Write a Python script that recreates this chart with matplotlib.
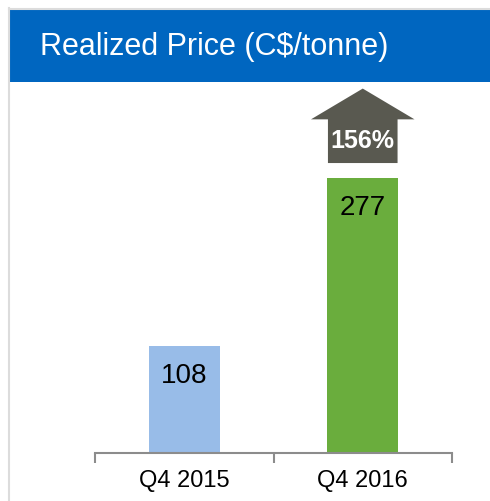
import matplotlib.pyplot as plt
from matplotlib.patches import Rectangle, Polygon
from matplotlib.lines import Line2D

plt.rcParams["font.family"] = ["Liberation Sans", "DejaVu Sans"]

# data
categories = ["Q4 2015", "Q4 2016"]
prices = [108, 277]
bar_colors = ["#98BCE8", "#6AAD3D"]
change_label = "156%"

W, H = 490, 501
fig = plt.figure(figsize=(W / 100, H / 100), dpi=100)


def fx(px):
    return px / W


def fy(py):
    return 1 - py / H


# frame border lines + title banner
fig.add_artist(Line2D([fx(8.5), fx(8.5)], [0, fy(8)], color="#DCDCDC", lw=1.5))
fig.add_artist(Line2D([fx(8.5), 1], [fy(8.5), fy(8.5)], color="#DCDCDC", lw=1.5))
fig.add_artist(Rectangle((fx(9), fy(82)), 1 - fx(9), fy(9) - fy(82),
                         facecolor="#0066C0", edgecolor="none"))
fig.text(fx(40), fy(47), "Realized Price (C$/tonne)", color="white",
         fontsize=22, va="center", ha="left")

# axes
ymax = 370
ax = fig.add_axes([fx(95), fy(453), fx(452) - fx(95), fy(453 - ymax * 0.993) - fy(453)])
ax.set_xlim(-0.5, 1.5)
ax.set_ylim(0, ymax)
x = list(range(len(categories)))
ax.bar(x, prices, width=0.40, color=bar_colors)

for xi, v in zip(x, prices):
    ax.text(xi, v - 30, str(v), ha="center", va="center", fontsize=20, color="black")

# growth arrow above the second bar
top = prices[1]
xc = x[1]
arrow = Polygon([
    (xc - 0.195, top + 15), (xc + 0.195, top + 15),
    (xc + 0.195, top + 59), (xc + 0.29, top + 59),
    (xc, top + 90), (xc - 0.29, top + 59),
    (xc - 0.195, top + 59)], closed=True, facecolor="#595950", edgecolor="none",
    clip_on=False)
ax.add_patch(arrow)
ax.text(xc, top + 37, change_label, ha="center", va="center", fontsize=18,
        fontweight="bold", color="white")

# axis styling
for s in ["top", "right", "left"]:
    ax.spines[s].set_visible(False)
ax.spines["bottom"].set_color("#8C8C8C")
ax.spines["bottom"].set_linewidth(1.5)
ax.set_yticks([])
ax.set_xticks([-0.5, 0.5, 1.5], minor=False)
ax.set_xticklabels([])
ax.tick_params(axis="x", which="major", length=7, width=1.5, color="#8C8C8C", direction="out")
ax.set_xticks(x, minor=True)
ax.set_xticklabels(categories, minor=True, fontsize=17)
ax.tick_params(axis="x", which="minor", length=0, pad=12)

fig.savefig("out.png", dpi=100)
